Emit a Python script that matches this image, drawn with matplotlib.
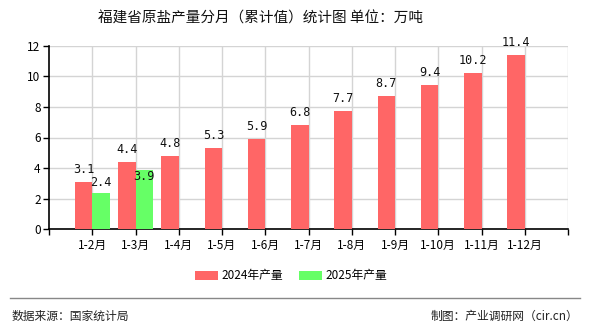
import matplotlib
matplotlib.use("Agg")
import matplotlib.pyplot as plt
from matplotlib.patches import Patch
from matplotlib.lines import Line2D

plt.rcParams['font.family'] = ['Noto Sans CJK SC', 'DejaVu Sans']

categories = ["1-2月", "1-3月", "1-4月", "1-5月", "1-6月", "1-7月",
              "1-8月", "1-9月", "1-10月", "1-11月", "1-12月"]
values_2024 = [3.1, 4.4, 4.8, 5.3, 5.9, 6.8, 7.7, 8.7, 9.4, 10.2, 11.4]
values_2025 = [2.4, 3.9]
series_names = ["2024年产量", "2025年产量"]
yticks = [0, 2, 4, 6, 8, 10, 12]

title = "福建省原盐产量分月（累计值）统计图 单位：万吨"
source = "数据来源：国家统计局"
credit = "制图：产业调研网（cir.cn）"

RED = "#FF6666"
GREEN = "#66FF66"

W, H = 590, 330
fig = plt.figure(figsize=(W / 100, H / 100), dpi=100)
ax = fig.add_axes([49 / W, (H - 229.3) / H, (568 - 49) / W, (229.3 - 45.7) / H])

bw = 0.4
x = list(range(len(categories)))
ax.bar([i - bw / 2 for i in x], values_2024, width=bw, color=RED, zorder=3)
ax.bar([i + bw / 2 for i in range(len(values_2025))], values_2025, width=bw,
       color=GREEN, zorder=3)

label_font = dict(family=['DejaVu Sans Mono', 'DejaVu Sans'], fontsize=8.5, color="#111111")
for i, v in enumerate(values_2024):
    ax.annotate(f"{v}", (i - bw / 2, v), xytext=(0, 9), textcoords="offset points",
                ha="center", va="center", zorder=5, **label_font)
for i, v in enumerate(values_2025):
    # keep the second label clear of the neighbouring red label
    dy = 7.5 if i == 0 else -5
    ax.annotate(f"{v}", (i + bw / 2, v), xytext=(0, dy), textcoords="offset points",
                ha="center", va="center", zorder=5, **label_font)

ax.set_xlim(-1, len(categories))
ax.set_ylim(0, 12)
ax.set_yticks(yticks)
ax.set_yticklabels([str(t) for t in yticks], fontsize=8.5)
ax.set_xticks(x)
ax.set_xticklabels(categories, fontsize=8.5)
ax.set_xticks([-1, len(categories)], minor=True)
ax.tick_params(axis="x", which="both", length=4, width=1, color="black", pad=3)
ax.tick_params(axis="y", length=4, width=1, color="black", pad=2)

ax.grid(True, axis="both", color="#D4D4D4", linewidth=1, zorder=0)
ax.axvline(len(categories), color="#D4D4D4", linewidth=1, zorder=0)
for side in ["top", "right"]:
    ax.spines[side].set_visible(False)
ax.spines["left"].set_linewidth(1.2)
ax.spines["bottom"].set_linewidth(1.2)

fig.text(261 / W, 1 - 19 / H, title, ha="center", va="center", fontsize=10.5, color="#111111")

handles = [Patch(facecolor=RED), Patch(facecolor=GREEN)]
fig.legend(handles, series_names, loc="center", bbox_to_anchor=(291 / W, 1 - 276 / H),
           ncol=2, frameon=False, fontsize=8.5, handlelength=1.9, handleheight=0.85,
           columnspacing=1.4, handletextpad=0.3)

fig.add_artist(Line2D([10 / W, 580 / W], [1 - 298 / H, 1 - 298 / H],
                      color="#888888", linewidth=1, transform=fig.transFigure))
fig.text(12 / W, 1 - 316 / H, source, ha="left", va="center", fontsize=8.5, color="#222222")
fig.text(578 / W, 1 - 316 / H, credit, ha="right", va="center", fontsize=8.5, color="#222222")

fig.savefig("out.png", dpi=100, facecolor="white")
